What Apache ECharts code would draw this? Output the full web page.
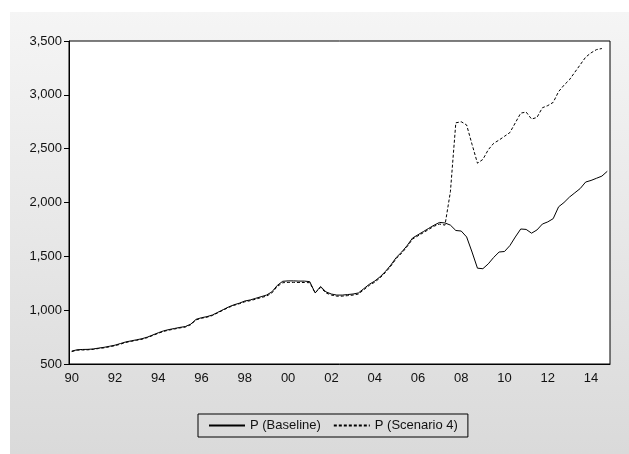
<!DOCTYPE html>
<html><head><meta charset="utf-8">
<script src="https://cdn.jsdelivr.net/npm/echarts@6/dist/echarts.min.js"></script>
<style>
html,body{margin:0;padding:0;background:#fff;}
#bg{position:absolute;left:10px;top:12px;width:619px;height:442px;background:linear-gradient(#f5f5f5,#dadada);}
#c{position:absolute;left:0;top:0;width:629px;height:454px;}
</style></head><body>
<div id="bg"></div><div id="c"></div>
<script>
const categories = [];
for (let y = 1990; y <= 2014; y++) for (let q = 1; q <= 4; q++) categories.push(y + 'Q' + q);
const baseline = [620,632,635,636,640,648,655,665,675,690,705,715,725,735,750,770,790,808,820,830,
840,848,870,915,930,940,955,980,1005,1030,1050,1065,1085,1095,1110,1125,1140,1170,1230,1268,
1272,1272,1270,1270,1265,1160,1220,1170,1150,1140,1140,1145,1150,1160,1200,1240,1270,1310,1360,1420,
1490,1540,1600,1670,1700,1730,1760,1790,1815,1810,1790,1740,1735,1680,1540,1390,1385,1430,1490,1540,
1545,1600,1680,1754,1750,1715,1745,1800,1820,1850,1960,2000,2050,2090,2130,2190,2205,2225,2245,2290];
const scenario4 = [615,628,630,632,636,644,650,660,670,684,700,710,720,730,745,765,785,803,815,825,
835,843,865,910,925,935,950,975,1000,1025,1045,1060,1078,1088,1102,1117,1130,1160,1220,1255,
1258,1258,1257,1257,1255,1160,1210,1160,1140,1130,1130,1135,1140,1150,1190,1230,1260,1300,1350,1410,
1480,1530,1590,1660,1690,1720,1750,1780,1800,1790,2100,2740,2750,2720,2540,2365,2400,2490,2550,2580,
2615,2650,2740,2830,2840,2775,2790,2880,2900,2930,3030,3090,3140,3210,3280,3350,3390,3420,3430,null];
const yTicks = [500,1000,1500,2000,2500,3000,3500];

const chart = echarts.init(document.getElementById('c'));
const font = {fontFamily:'Liberation Sans, Arial, sans-serif', fontSize:13, color:'#111'};
chart.setOption({
  animation:false,
  grid:{left:69,right:19,top:41,bottom:90,show:true,borderColor:'#000',borderWidth:1,backgroundColor:'#fff'},
  legend:{bottom:17,left:198,borderColor:'#000',borderWidth:1,padding:[5,10],itemWidth:36,itemGap:12,
    itemStyle:{color:'transparent',borderWidth:0,opacity:0},
    textStyle:{...font},
    data:['P (Baseline)','P (Scenario 4)']},
  xAxis:[{type:'category',data:categories,boundaryGap:true,
    axisLine:{lineStyle:{color:'#000'}},
    axisTick:{interval:0,alignWithLabel:true,length:3,lineStyle:{color:'#000'}},
    axisLabel:{...font,interval:7,margin:8,formatter:v=>v.slice(2,4)},
    splitLine:{show:false}},
   {type:'category',data:categories,boundaryGap:true,position:'bottom',
    axisLine:{show:false},
    axisTick:{interval:3,alignWithLabel:true,length:6,lineStyle:{color:'#000'}},
    axisLabel:{show:false},splitLine:{show:false}}],
  yAxis:{type:'value',min:yTicks[0],max:yTicks[yTicks.length-1],interval:500,
    axisLine:{show:true,lineStyle:{color:'#000'}},
    axisTick:{show:true,length:5,lineStyle:{color:'#000'}},
    axisLabel:{...font,margin:7,formatter:v=>v.toLocaleString('en-US')},
    splitLine:{show:false}},
  series:[
    {name:'P (Baseline)',type:'line',data:baseline,showSymbol:false,symbol:'none',
     lineStyle:{color:'#000',width:1},itemStyle:{color:'#000'}},
    {name:'P (Scenario 4)',type:'line',data:scenario4,showSymbol:false,symbol:'none',
     lineStyle:{color:'#000',width:1,type:[3,2]},itemStyle:{color:'#000'}}
  ]
});
</script></body></html>
